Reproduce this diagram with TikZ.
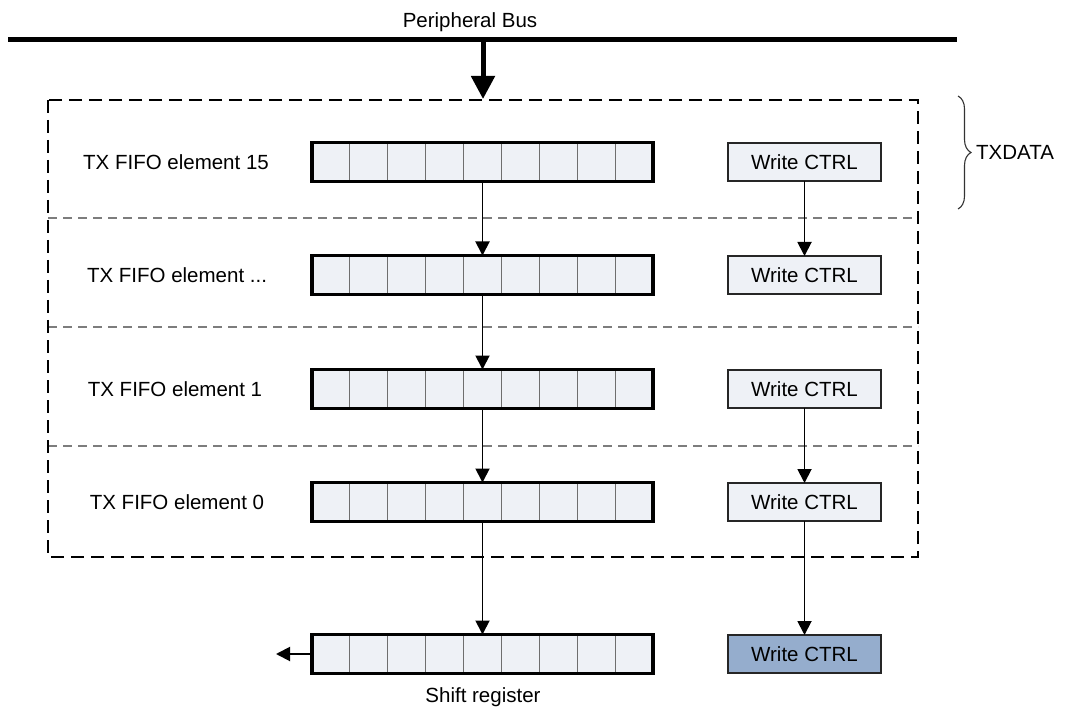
\documentclass[tikz,border=0pt]{standalone}
\usepackage{fontspec}
\setmainfont{Liberation Sans}
\usetikzlibrary{arrows.meta,decorations.pathreplacing}
\definecolor{cellfill}{RGB}{238,241,246}
\definecolor{bluefill}{RGB}{149,173,205}
\definecolor{sepgray}{RGB}{125,125,125}
\definecolor{divgray}{RGB}{110,110,110}
\tikzset{
  regfill/.style={fill=cellfill, minimum width=341pt, minimum height=39pt, inner sep=0pt, outer sep=0pt},
  regborder/.style={draw=black, line width=3.4pt},
  divider/.style={draw=divgray, line width=1.2pt},
  wcbox/.style={draw=black!85, line width=1.7pt, fill=cellfill, minimum width=153pt, minimum height=38pt, inner sep=0pt, outer sep=0pt},
  flow/.style={-{Triangle[length=14pt,width=14pt]}, line width=1.9pt},
  sepline/.style={draw=sepgray, line width=1.3pt, dash pattern=on 9pt off 6pt},
  outerbox/.style={draw=black, line width=2pt, dash pattern=on 13pt off 7pt},
  rowlabel/.style={anchor=center, inner sep=0pt},
}
\newcommand{\regbox}[2]{%
  \node[regfill] (#1) at (482.5,#2) {};
  \foreach \k in {1,...,8} {\draw[divider] ([xshift=\k*37.889pt]#1.north west) -- ([xshift=\k*37.889pt]#1.south west);}
  \draw[regborder] (#1.north west) rectangle (#1.south east);
}
\begin{document}
\begin{tikzpicture}[x=1pt,y=-1pt,font=\fontsize{20.5}{24}\selectfont]
\useasboundingbox (0,0) rectangle (1071,711);

% peripheral bus
\coordinate (busL) at (8,40);
\coordinate (busR) at (957,40);
\coordinate (busTap) at (483,40);
\coordinate (fifoTop) at (483,99);
\draw[line width=5pt] (busL) -- (busR);
\node[inner sep=0pt] (buslbl) at (470,22) {Peripheral Bus};
\draw[line width=5pt, -{Triangle[length=23pt,width=23pt]}] (busTap) -- (fifoTop);

% TX FIFO frame
\draw[sepline] (48,218) -- (918,218);
\draw[sepline] (48,327) -- (918,327);
\draw[sepline] (48,446) -- (918,446);
\draw[outerbox] (48,100) rectangle (918,557);

% rows
\node[rowlabel] (l15) at (176,162) {TX FIFO element 15};
\node[rowlabel] (ldots) at (177,275) {TX FIFO element ...};
\node[rowlabel] (l1) at (175,389) {TX FIFO element 1};
\node[rowlabel] (l0) at (177,502) {TX FIFO element 0};

\regbox{r15}{162}
\regbox{rdots}{275}
\regbox{r1}{389}
\regbox{r0}{502}
\regbox{rs}{654}

\node[wcbox] (w15) at (804.5,162) {Write CTRL};
\node[wcbox] (wdots) at (804.5,275) {Write CTRL};
\node[wcbox] (w1) at (804.5,389) {Write CTRL};
\node[wcbox] (w0) at (804.5,502) {Write CTRL};
\node[wcbox, fill=bluefill] (ws) at (804.5,654) {Write CTRL};

% data flow
\draw[flow] (r15.south) -- (rdots.north);
\draw[flow] (rdots.south) -- (r1.north);
\draw[flow] (r1.south) -- (r0.north);
\draw[flow] (r0.south) -- (rs.north);
\draw[flow] (w15.south) -- (wdots.north);
\draw[flow] (w1.south) -- (w0.north);
\draw[flow] (w0.south) -- (ws.north);

\coordinate (shiftOut) at (276,654);
\draw[flow] (rs.west) -- (shiftOut);
\node[inner sep=0pt] (slbl) at (483,697) {Shift register};

% TXDATA brace
\coordinate (brTop) at (958,96);
\coordinate (brBot) at (958,209);
\draw[decorate, decoration={brace, amplitude=13pt}, line width=1.1pt, draw=black!80] (brTop) -- (brBot);
\node[anchor=west, inner sep=0pt] (txd) at (976,152.5) {TXDATA};
\end{tikzpicture}
\end{document}
